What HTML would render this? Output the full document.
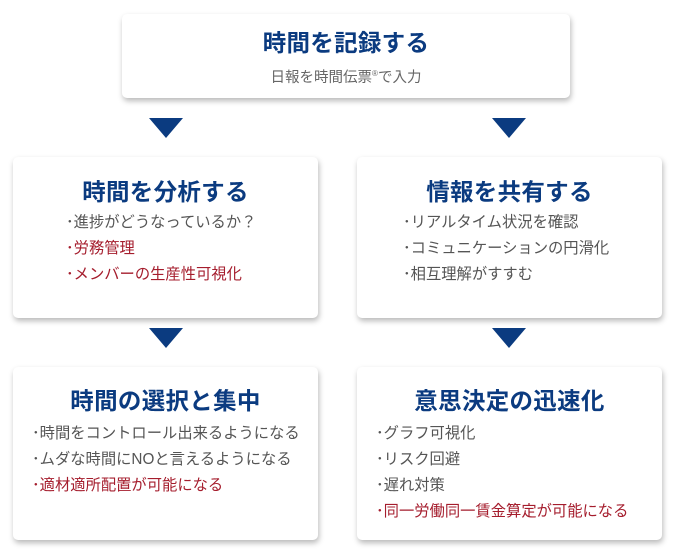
<!DOCTYPE html>
<html><head><meta charset="utf-8"><style>
body{margin:0;width:677px;height:557px;background:#fff;position:relative;font-family:"Liberation Sans","Noto Sans CJK JP",sans-serif;overflow:hidden}
.b{position:absolute;background:#fff;border-radius:5px;box-shadow:1px 3px 6px rgba(0,0,0,0.28)}
.t{color:#0b3b80;font-weight:bold;font-size:23.5px;text-align:center;position:absolute;left:0;right:0;letter-spacing:0.3px}
.l{position:absolute;font-size:15.3px;color:#555;line-height:26px}
.r{color:#a51d2d}
.a{position:absolute;width:0;height:0;border-left:17px solid transparent;border-right:17px solid transparent;border-top:20px solid #0b3b80}
</style></head><body>
<div class="b" style="left:122px;top:14px;width:448px;height:84px">
<div class="t" style="top:10px">時間を記録する</div>
<div style="position:absolute;top:52px;left:0;right:0;text-align:center;font-size:14.5px;color:#666">日報を時間伝票<sup style="font-size:8px">®</sup>で入力</div></div>
<div class="a" style="left:149px;top:118px"></div>
<div class="a" style="left:492px;top:118px"></div>
<div class="b" style="left:13px;top:157px;width:305px;height:161px">
<div class="t" style="top:16px">時間を分析する</div>
<div class="l" style="left:53px;top:53px">･進捗がどうなっているか？<br><span class="r">･労務管理</span><br><span class="r">･メンバーの生産性可視化</span></div></div>
<div class="b" style="left:357px;top:157px;width:305px;height:161px">
<div class="t" style="top:16px">情報を共有する</div>
<div class="l" style="left:46px;top:53px">･リアルタイム状況を確認<br>･コミュニケーションの円滑化<br>･相互理解がすすむ</div></div>
<div class="a" style="left:149px;top:328px"></div>
<div class="a" style="left:492px;top:328px"></div>
<div class="b" style="left:13px;top:367px;width:305px;height:173px">
<div class="t" style="top:15px">時間の選択と集中</div>
<div class="l" style="left:19px;top:54px">･時間をコントロール出来るようになる<br>･ムダな時間にNOと言えるようになる<br><span class="r">･適材適所配置が可能になる</span></div></div>
<div class="b" style="left:357px;top:367px;width:305px;height:173px">
<div class="t" style="top:15px">意思決定の迅速化</div>
<div class="l" style="left:19px;top:54px">･グラフ可視化<br>･リスク回避<br>･遅れ対策<br><span class="r">･同一労働同一賃金算定が可能になる</span></div></div>
</body></html>
